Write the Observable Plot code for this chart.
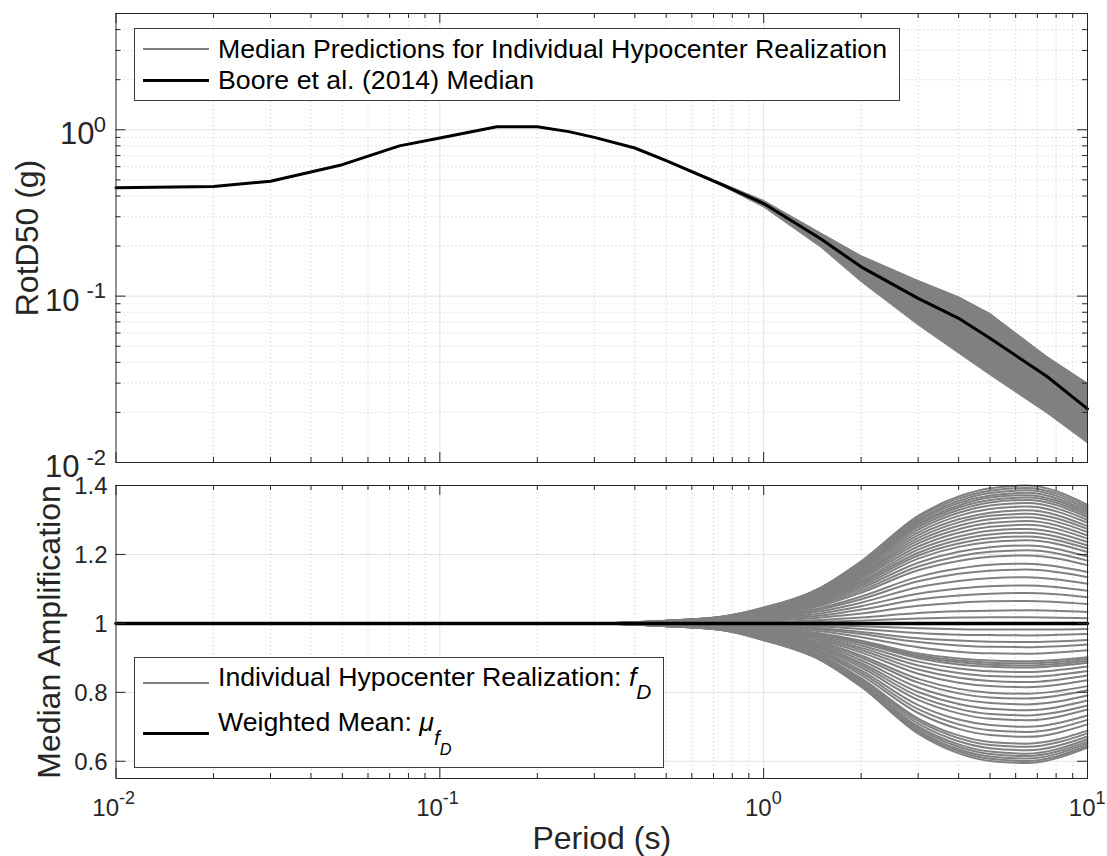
<!DOCTYPE html>
<html><head><meta charset="utf-8">
<script src="https://cdn.jsdelivr.net/npm/d3@7"></script>
<script src="https://cdn.jsdelivr.net/npm/@observablehq/plot@0.6"></script>
<style>
body{margin:0;background:#fff;font-family:"Liberation Sans",Arial,sans-serif;}
#wrap{position:relative;width:1107px;height:856px;overflow:hidden;background:#fff;}
#top,#bottom{position:absolute;left:0;}
#top{top:0px} #bottom{top:475px}
.legend{position:absolute;background:#fff;border:1px solid #3c3c3c;box-sizing:border-box;font-size:26.7px;color:#000;}
.row{position:absolute;left:83px;line-height:1;white-space:nowrap}
.swatch{position:absolute;left:8px;width:66px;}
sub{font-size:0.78em;vertical-align:-0.63em;line-height:0}
</style>
</head><body>
<div id="wrap">
  <div id="top"></div>
  <div id="bottom"></div>
  <div class="legend" style="left:134px;top:28px;width:766px;height:73px;">
    <div class="swatch" style="top:19px;height:2px;background:#808080"></div>
    <div class="row" style="top:6.7px">Median Predictions for Individual Hypocenter Realization</div>
    <div class="swatch" style="top:50px;height:3px;background:#000"></div>
    <div class="row" style="top:38.4px">Boore et al. (2014) Median</div>
  </div>
  <div class="legend" style="left:134px;top:657px;width:530px;height:111px;">
    <div class="swatch" style="top:24px;height:2px;background:#808080"></div>
    <div class="row" style="top:6.4px">Individual Hypocenter Realization: <i>f</i><sub><i>D</i></sub></div>
    <div class="swatch" style="top:74px;height:3px;background:#000"></div>
    <div class="row" style="top:51.4px">Weighted Mean: <i>μ</i><sub><i>f</i><sub><i>D</i></sub></sub></div>
  </div>
</div>
<script>
// ---------------- data ----------------
const gmpePeriods = [0.01,0.02,0.03,0.05,0.075,0.1,0.15,0.2,0.25,0.3,0.4,0.5,0.75,1,1.5,2,3,4,5,7.5,10];
const booreMedian = [0.448,0.456,0.491,0.617,0.80,0.892,1.042,1.042,0.975,0.90,0.777,0.652,0.465,0.36,0.221,0.150,0.097,0.0736,0.0558,0.0329,0.021];

const bandPeriods = [0.4,0.5,0.75,1,1.5,2,3,4,5,7.5,10];
const bandUpper = [0.777,0.658,0.474,0.376,0.240,0.175,0.124,0.099,0.0787,0.0433,0.030];
const bandLower = [0.777,0.646,0.456,0.343,0.197,0.122,0.067,0.0454,0.0336,0.0198,0.0131];

const ampPeriods = [0.01,0.3,0.5,0.75,1,1.5,2,3,4,5,6.5,10];
const ampAbove = [
[1,1,1.008,1.020,1.046,1.104,1.180,1.312,1.368,1.392,1.400,1.344],
[1,1,1.008,1.020,1.045,1.102,1.177,1.307,1.362,1.385,1.393,1.338],
[1,1,1.008,1.019,1.044,1.100,1.174,1.301,1.355,1.378,1.386,1.332],
[1,1,1.008,1.019,1.044,1.099,1.171,1.296,1.349,1.371,1.379,1.326],
[1,1,1.007,1.019,1.043,1.097,1.167,1.290,1.342,1.365,1.372,1.320],
[1,1,1.007,1.018,1.042,1.095,1.164,1.285,1.336,1.358,1.365,1.314],
[1,1,1.007,1.018,1.041,1.093,1.161,1.279,1.329,1.351,1.358,1.308],
[1,1,1.007,1.017,1.040,1.091,1.157,1.272,1.321,1.342,1.349,1.300],
[1,1,1.007,1.017,1.039,1.088,1.153,1.264,1.312,1.332,1.339,1.292],
[1,1,1.007,1.016,1.038,1.085,1.148,1.256,1.302,1.321,1.328,1.282],
[1,1,1.006,1.016,1.037,1.083,1.143,1.248,1.293,1.312,1.318,1.274],
[1,1,1.006,1.015,1.035,1.080,1.139,1.240,1.283,1.302,1.308,1.265],
[1,1,1.006,1.015,1.034,1.077,1.134,1.232,1.273,1.291,1.297,1.255],
[1,1,1.006,1.014,1.033,1.074,1.129,1.223,1.263,1.280,1.286,1.246],
[1,1,1.005,1.014,1.032,1.071,1.123,1.214,1.252,1.269,1.274,1.236],
[1,1,1.005,1.013,1.030,1.068,1.118,1.205,1.242,1.258,1.263,1.226],
[1,1,1.005,1.013,1.029,1.066,1.113,1.197,1.232,1.247,1.252,1.217],
[1,1,1.005,1.012,1.028,1.063,1.108,1.188,1.222,1.236,1.241,1.207],
[1,1,1.005,1.011,1.026,1.059,1.102,1.176,1.208,1.221,1.226,1.194],
[1,1,1.004,1.011,1.024,1.055,1.095,1.165,1.195,1.208,1.212,1.182],
[1,1,1.004,1.010,1.023,1.051,1.089,1.154,1.181,1.193,1.197,1.169],
[1,1,1.003,1.009,1.020,1.045,1.078,1.135,1.159,1.170,1.173,1.149],
[1,1,1.003,1.008,1.018,1.041,1.070,1.122,1.144,1.153,1.156,1.134],
[1,1,1.003,1.007,1.015,1.035,1.060,1.105,1.123,1.131,1.134,1.115],
[1,1,1.002,1.006,1.013,1.029,1.050,1.086,1.101,1.108,1.110,1.095],
[1,1,1.002,1.004,1.010,1.023,1.040,1.069,1.081,1.086,1.088,1.076],
[1,1,1.001,1.003,1.007,1.017,1.029,1.051,1.060,1.064,1.065,1.056],
[1,1,1.001,1.002,1.004,1.010,1.017,1.030,1.035,1.037,1.038,1.033],
[1,1,1.000,1.001,1.002,1.005,1.008,1.014,1.017,1.018,1.018,1.015]
];
const ampBelow = [
[1,1,1.000,0.999,0.998,0.995,0.992,0.986,0.983,0.982,0.982,0.984],
[1,1,0.999,0.998,0.996,0.991,0.984,0.972,0.967,0.966,0.965,0.969],
[1,1,0.999,0.997,0.994,0.986,0.975,0.957,0.950,0.947,0.946,0.952],
[1,1,0.999,0.997,0.992,0.982,0.969,0.946,0.936,0.932,0.931,0.939],
[1,1,0.998,0.996,0.989,0.977,0.960,0.931,0.918,0.913,0.912,0.922],
[1,1,0.998,0.995,0.987,0.971,0.950,0.913,0.898,0.892,0.890,0.902],
[1,1,0.998,0.994,0.986,0.969,0.947,0.908,0.892,0.886,0.884,0.897],
[1,1,0.998,0.994,0.985,0.968,0.945,0.904,0.887,0.880,0.878,0.891],
[1,1,0.997,0.994,0.985,0.966,0.942,0.899,0.881,0.874,0.872,0.886],
[1,1,0.997,0.993,0.983,0.963,0.936,0.889,0.869,0.861,0.859,0.875],
[1,1,0.997,0.992,0.981,0.959,0.929,0.878,0.856,0.847,0.845,0.862],
[1,1,0.997,0.992,0.980,0.955,0.923,0.866,0.842,0.833,0.830,0.849],
[1,1,0.996,0.991,0.978,0.951,0.916,0.854,0.828,0.818,0.815,0.835],
[1,1,0.996,0.990,0.976,0.946,0.907,0.839,0.810,0.799,0.796,0.818],
[1,1,0.996,0.989,0.974,0.942,0.901,0.828,0.797,0.785,0.782,0.806],
[1,1,0.995,0.988,0.972,0.938,0.893,0.814,0.781,0.769,0.765,0.791],
[1,1,0.995,0.987,0.970,0.933,0.885,0.801,0.766,0.752,0.748,0.776],
[1,1,0.995,0.987,0.968,0.929,0.879,0.789,0.752,0.737,0.733,0.762],
[1,1,0.994,0.986,0.966,0.926,0.872,0.778,0.739,0.723,0.719,0.750],
[1,1,0.994,0.985,0.964,0.921,0.864,0.763,0.721,0.705,0.700,0.733],
[1,1,0.994,0.984,0.962,0.917,0.857,0.751,0.707,0.690,0.685,0.720],
[1,1,0.993,0.984,0.961,0.913,0.850,0.740,0.694,0.676,0.671,0.707],
[1,1,0.993,0.983,0.958,0.908,0.841,0.724,0.675,0.656,0.651,0.689],
[1,1,0.993,0.982,0.957,0.905,0.837,0.717,0.667,0.647,0.642,0.681],
[1,1,0.993,0.982,0.956,0.903,0.833,0.709,0.658,0.638,0.632,0.672],
[1,1,0.992,0.981,0.955,0.900,0.828,0.701,0.649,0.628,0.622,0.664],
[1,1,0.992,0.981,0.954,0.898,0.825,0.696,0.642,0.621,0.615,0.657],
[1,1,0.992,0.980,0.953,0.896,0.822,0.690,0.635,0.614,0.608,0.651],
[1,1,0.992,0.980,0.952,0.894,0.818,0.685,0.629,0.607,0.601,0.645],
[1,1,0.992,0.980,0.951,0.893,0.816,0.680,0.623,0.601,0.595,0.640]
];
const weightedMean = [1,1,1,1,1,1,1,1,1,1,1,1];

// ticks
const xMajorTicks = [0.01,0.1,1,10];
const xTickExponents = ["-2","-1","0","1"];
const xMinorTicks = [0.02,0.03,0.04,0.05,0.06,0.07,0.08,0.09,0.2,0.3,0.4,0.5,0.6,0.7,0.8,0.9,2,3,4,5,6,7,8,9];
const yTopMajor = [0.01,0.1,1];
const yTopExponents = ["-2","-1","0"];
const yTopMinor = [0.02,0.03,0.04,0.05,0.06,0.07,0.08,0.09,0.2,0.3,0.4,0.5,0.6,0.7,0.8,0.9,2,3,4,5];
const yBotTicks = [0.6,0.8,1,1.2,1.4];
const yBotTickLabels = ["0.6","0.8","1","1.2","1.4"];

// ---------------- tables ----------------
const medianTable = gmpePeriods.map((T,i)=>({T, v: booreMedian[i]}));
const bandTable = bandPeriods.map((T,i)=>({T, lo: bandLower[i], hi: bandUpper[i]}));
const ampTable = [...ampAbove, ...ampBelow].flatMap((row,k)=>row.map((v,i)=>({T: ampPeriods[i], v, id: k})));
const meanTable = ampPeriods.map((T,i)=>({T, v: weightedMean[i]}));

const FONT = "Liberation Sans, Arial, Helvetica, sans-serif";
const INK = "#262626";
const W = 1107, ML = 115.5, MR = 20;
const PW = W - ML - MR;
const majorGrid = {stroke: "#e3e3e3", strokeWidth: 1};
const minorGrid = {stroke: "#c8c8c8", strokeWidth: 1, strokeDasharray: "1,3"};

function frameTicks(H, xs, ys, len) {
  const m = [];
  if (xs) {
    m.push(Plot.tickX(xs, {x: d=>d, insetTop: H - len, stroke: INK}));
    m.push(Plot.tickX(xs, {x: d=>d, insetBottom: H - len, stroke: INK}));
  }
  if (ys) {
    m.push(Plot.tickY(ys, {y: d=>d, insetRight: PW - len, stroke: INK}));
    m.push(Plot.tickY(ys, {y: d=>d, insetLeft: PW - len, stroke: INK}));
  }
  return m;
}

// ---------------- top panel ----------------
const HT = 475, MTt = 13, MBt = 13;
const PHt = HT - MTt - MBt;
const topNeg = yTopMajor.filter((d,i)=>yTopExponents[i].startsWith("-"));
const topPos = yTopMajor.filter((d,i)=>!yTopExponents[i].startsWith("-"));
const topExp = d => yTopExponents[yTopMajor.indexOf(d)];

const topPlot = Plot.plot({
  width: W, height: HT, marginLeft: ML, marginRight: MR, marginTop: MTt, marginBottom: MBt,
  x: {type: "log", domain: [0.01, 10], axis: null},
  y: {type: "log", domain: [0.01, 5], axis: null},
  style: {background: "transparent", overflow: "visible", fontFamily: FONT},
  marks: [
    Plot.ruleX(xMinorTicks, {x: d=>d, ...minorGrid}),
    Plot.ruleY(yTopMinor, {y: d=>d, ...minorGrid}),
    Plot.ruleX(xMajorTicks.slice(1, -1), {x: d=>d, ...majorGrid}),
    Plot.ruleY(yTopMajor.slice(1), {y: d=>d, ...majorGrid}),
    Plot.areaY(bandTable, {x: "T", y1: "lo", y2: "hi", fill: "#808080"}),
    Plot.line(bandTable, {x: "T", y: "hi", stroke: "#808080", strokeWidth: 1}),
    Plot.line(bandTable, {x: "T", y: "lo", stroke: "#808080", strokeWidth: 1}),
    Plot.line(medianTable, {x: "T", y: "v", stroke: "#000", strokeWidth: 3}),
    ...frameTicks(PHt, xMajorTicks, yTopMajor, 10),
    ...frameTicks(PHt, xMinorTicks, yTopMinor, 5),
    Plot.frame({stroke: INK, strokeWidth: 1}),
    Plot.text(topNeg, {y: d=>d, frameAnchor: "left", text: ()=>"10", textAnchor: "end", dx: -36.5, dy: 4.5, fontSize: 31, fill: INK, fontFamily: FONT}),
    Plot.text(topNeg, {y: d=>d, frameAnchor: "left", text: topExp, textAnchor: "end", dx: -10, dy: -5, fontSize: 22, fill: INK, fontFamily: FONT}),
    Plot.text(topPos, {y: d=>d, frameAnchor: "left", text: ()=>"10", textAnchor: "end", dx: -21.5, dy: 4.5, fontSize: 31, fill: INK, fontFamily: FONT}),
    Plot.text(topPos, {y: d=>d, frameAnchor: "left", text: topExp, textAnchor: "end", dx: -10, dy: -5, fontSize: 22, fill: INK, fontFamily: FONT}),
    Plot.text(["RotD50 (g)"], {frameAnchor: "left", text: d=>d, textAnchor: "middle", rotate: -90, dx: -88, fontSize: 32, fill: INK, fontFamily: FONT})
  ]
});
document.getElementById("top").append(topPlot);

// ---------------- bottom panel ----------------
const HB = 381, MTb = 10, MBb = 78;
const PHb = HB - MTb - MBb;
const xNeg = xMajorTicks.filter((d,i)=>xTickExponents[i].startsWith("-"));
const xPos = xMajorTicks.filter((d,i)=>!xTickExponents[i].startsWith("-"));
const xExp = d => xTickExponents[xMajorTicks.indexOf(d)];

const bottomPlot = Plot.plot({
  width: W, height: HB, marginLeft: ML, marginRight: MR, marginTop: MTb, marginBottom: MBb,
  x: {type: "log", domain: [0.01, 10], axis: null},
  y: {domain: [0.55, 1.4], axis: null},
  style: {background: "transparent", overflow: "visible", fontFamily: FONT},
  marks: [
    Plot.ruleX(xMinorTicks, {x: d=>d, ...minorGrid}),
    Plot.ruleX(xMajorTicks.slice(1, -1), {x: d=>d, ...majorGrid}),
    Plot.ruleY(yBotTicks.slice(0, -1), {y: d=>d, ...majorGrid}),
    Plot.line(ampTable, {x: "T", y: "v", z: "id", stroke: "#808080", strokeWidth: 2, curve: "monotone-x"}),
    Plot.line(meanTable, {x: "T", y: "v", stroke: "#000", strokeWidth: 3.5}),
    ...frameTicks(PHb, xMajorTicks, yBotTicks, 10),
    ...frameTicks(PHb, xMinorTicks, null, 5),
    Plot.frame({stroke: INK, strokeWidth: 1}),
    Plot.text(yBotTicks, {y: d=>d, frameAnchor: "left", text: d=>yBotTickLabels[yBotTicks.indexOf(d)], textAnchor: "end", dx: -8.5, dy: 1, fontSize: 24, fill: INK, fontFamily: FONT}),
    Plot.text(xNeg, {x: d=>d, frameAnchor: "bottom", text: ()=>"10", textAnchor: "end", dx: 3, dy: 37, fontSize: 24, fill: INK, fontFamily: FONT}),
    Plot.text(xNeg, {x: d=>d, frameAnchor: "bottom", text: xExp, textAnchor: "start", dx: 3, dy: 25, fontSize: 18, fill: INK, fontFamily: FONT}),
    Plot.text(xPos, {x: d=>d, frameAnchor: "bottom", text: ()=>"10", textAnchor: "end", dx: 8, dy: 37, fontSize: 24, fill: INK, fontFamily: FONT}),
    Plot.text(xPos, {x: d=>d, frameAnchor: "bottom", text: xExp, textAnchor: "start", dx: 8, dy: 25, fontSize: 18, fill: INK, fontFamily: FONT}),
    Plot.text(["Median Amplification"], {frameAnchor: "left", text: d=>d, textAnchor: "middle", rotate: -90, dx: -66, fontSize: 32, fill: INK, fontFamily: FONT}),
    Plot.text(["Period (s)"], {frameAnchor: "bottom", text: d=>d, dy: 70, fontSize: 32, fill: INK, fontFamily: FONT})
  ]
});
document.getElementById("bottom").append(bottomPlot);
</script>
</body></html>
